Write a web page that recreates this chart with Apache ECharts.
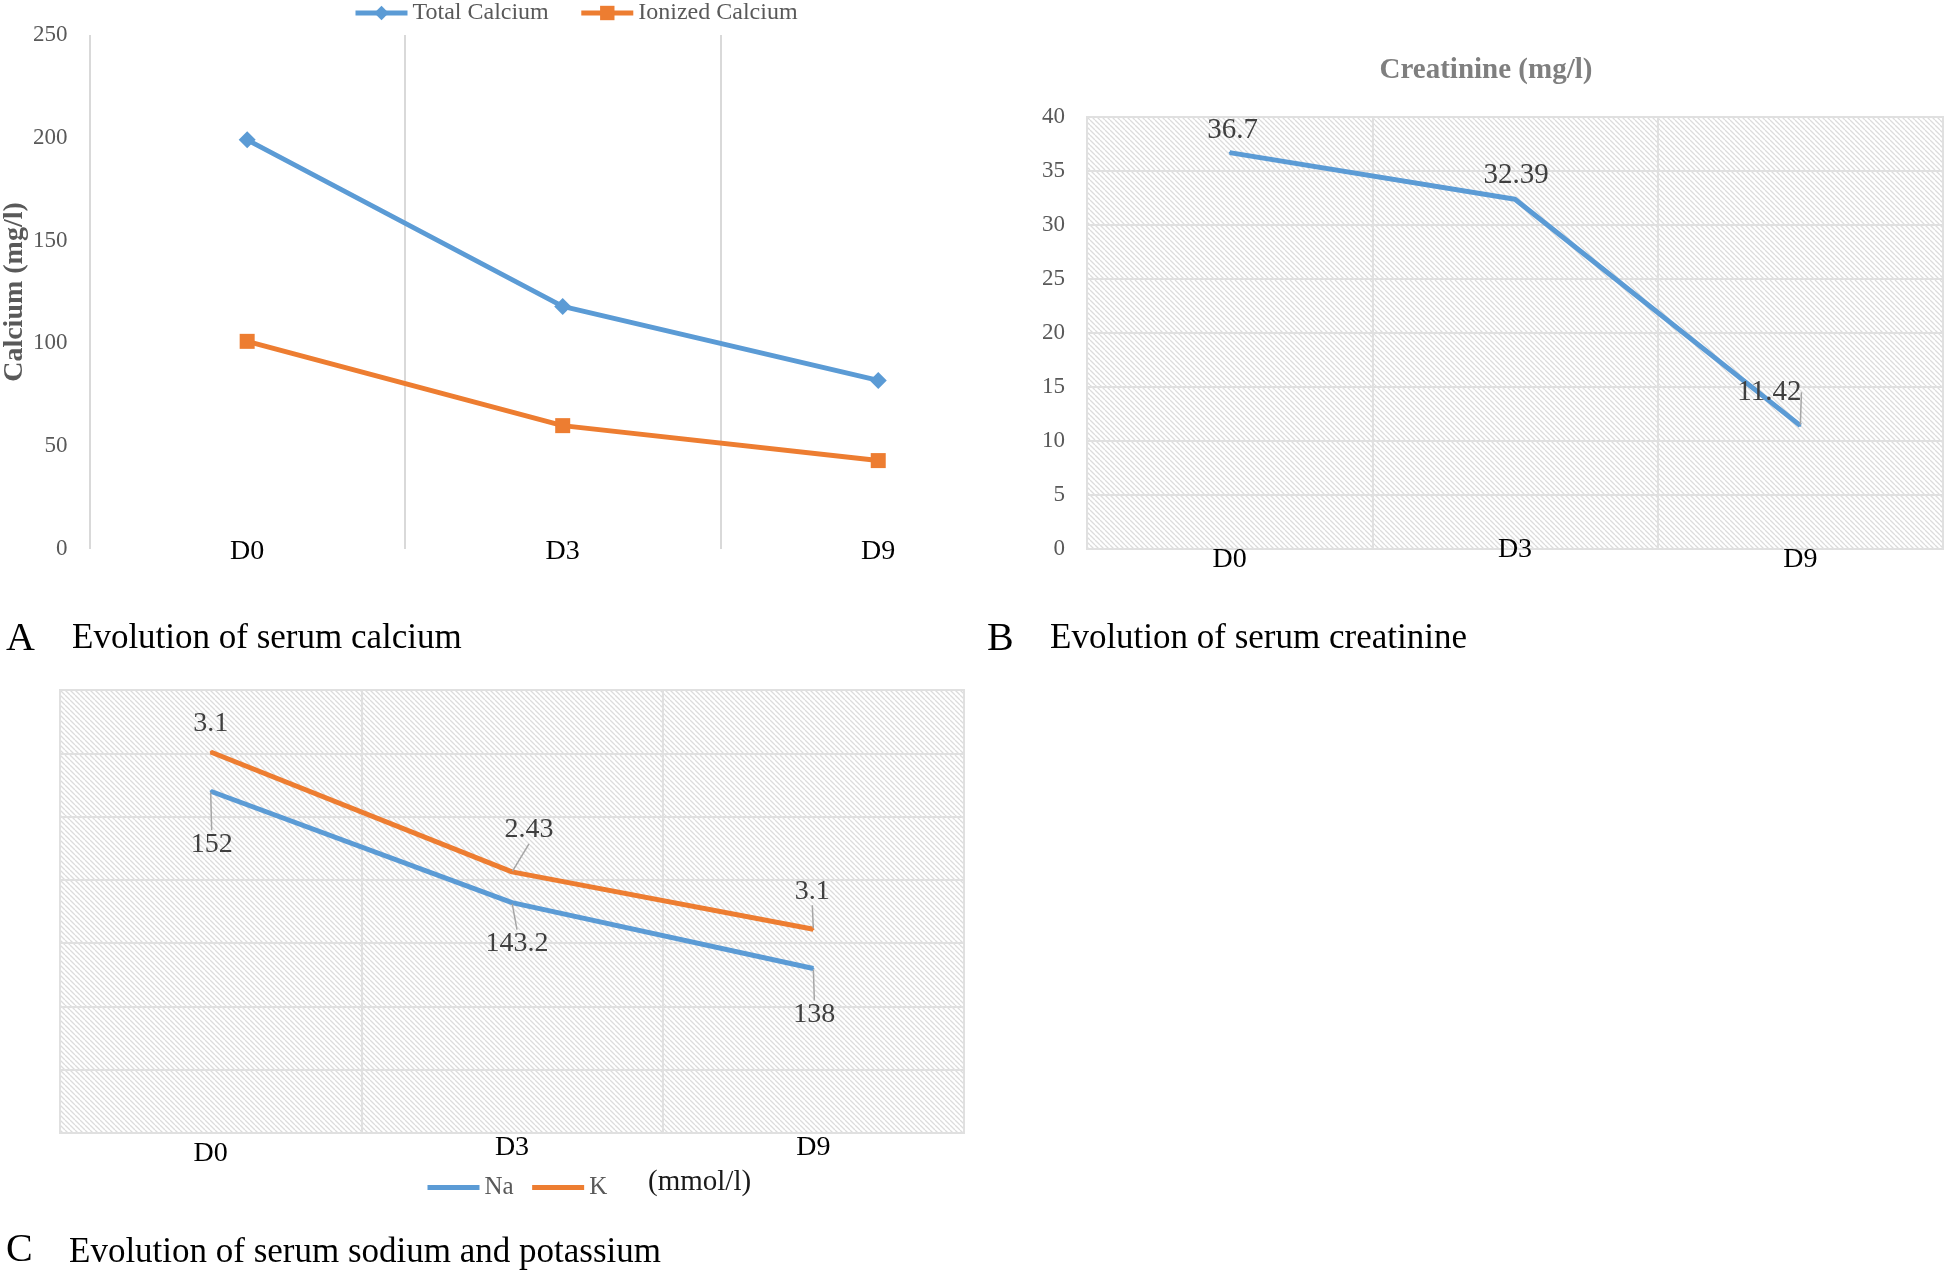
<!DOCTYPE html>
<html><head><meta charset="utf-8">
<script src="https://cdn.jsdelivr.net/npm/echarts@6/dist/echarts.min.js"></script>
<style>html,body{margin:0;padding:0;background:#fff}#c{width:1946px;height:1272px}</style>
</head><body><div id="c"></div>
<script>
// ---------- data ----------
const days = ['D0', 'D3', 'D9'];
const totalCalcium = [199, 118, 82];
const ionizedCalcium = [101, 60, 43];
const creatinine = [36.7, 32.39, 11.42];
const sodium = [152, 143.2, 138];
const potassium = [3.1, 2.43, 3.1];

// ---------- styles ----------
const FONT = "'Liberation Serif', 'Times New Roman', serif";
const BLUE = '#5B9BD5', ORANGE = '#ED7D31';
const GRIDLINE = '#e0e0e0';

function hatch() {
  const s = 5;
  const c = document.createElement('canvas');
  c.width = s; c.height = s;
  const g = c.getContext('2d');
  g.fillStyle = '#ffffff'; g.fillRect(0, 0, s, s);
  g.strokeStyle = '#dcdcdc'; g.lineWidth = 1.3;
  g.beginPath();
  for (const k of [-s, 0, s]) { g.moveTo(k, 0); g.lineTo(k + s, s); }
  g.stroke();
  return { image: c, repeat: 'repeat' };
}
const pattern = hatch();

// label shifts (dx, dy) relative to default label placement
const creatShift = [[3, -2], [1, -3], [-31, -13]];
const naShift = [[1, 33], [5, 21], [1, 26]];
const kShift = [[0, -8], [17, -22], [-1, -18]];

const labelText = { fontFamily: FONT, color: '#404040' };
const leader = { show: true, lineStyle: { color: '#a6a6a6', width: 1.5 } };
const noLeader = { show: false };

const chart = echarts.init(document.getElementById('c'), null, { renderer: 'canvas' });

const option = {
  backgroundColor: '#ffffff',
  animation: false,
  grid: [
    { left: 87, right: 910, top: 35, bottom: 723, show: false },
    { left: 1087, right: 3, top: 117, bottom: 723, show: true, backgroundColor: pattern, borderColor: GRIDLINE, borderWidth: 2 },
    { left: 60, right: 982, top: 690, bottom: 139, show: true, backgroundColor: pattern, borderColor: GRIDLINE, borderWidth: 2 }
  ],
  legend: [
    {
      data: ['Total Calcium', 'Ionized Calcium'],
      left: 348, top: -4, itemWidth: 52, itemHeight: 18, itemGap: 30,
      lineStyle: { width: 5 },
      textStyle: { fontFamily: FONT, fontSize: 24, color: '#595959' }
    },
    {
      data: ['Na', 'K'],
      left: 420, top: 1170, itemWidth: 52, itemHeight: 14, itemGap: 16,
      lineStyle: { width: 5 },
      itemStyle: { color: 'rgba(0,0,0,0)', borderWidth: 0, opacity: 0 },
      textStyle: { fontFamily: FONT, fontSize: 25, color: '#595959' }
    }
  ],
  xAxis: [
    {
      gridIndex: 0, type: 'category', data: days,
      axisLine: { show: false }, axisTick: { show: false },
      splitLine: { show: true, interval: 0, showMaxLine: false, lineStyle: { color: '#d9d9d9', width: 2 } },
      axisLabel: { margin: -11, fontFamily: FONT, fontSize: 28, color: '#000' }
    },
    {
      gridIndex: 1, type: 'category',
      data: days.map((d, i) => i === 1 ? d : { value: d, textStyle: { padding: [10, 0, 0, 0] } }),
      axisLine: { show: false }, axisTick: { show: false },
      splitLine: { show: true, interval: 0, lineStyle: { color: GRIDLINE, width: 2 } },
      axisLabel: { margin: -13, fontFamily: FONT, fontSize: 28, color: '#000' }
    },
    {
      gridIndex: 2, type: 'category',
      data: days.map((d, i) => i !== 0 ? d : { value: d, textStyle: { padding: [6, 0, 0, 0] } }),
      axisLine: { show: false }, axisTick: { show: false },
      splitLine: { show: true, interval: 0, lineStyle: { color: GRIDLINE, width: 2 } },
      axisLabel: { margin: 1, fontFamily: FONT, fontSize: 28, color: '#000' }
    }
  ],
  yAxis: [
    {
      gridIndex: 0, type: 'value', min: 0, max: 250, interval: 50,
      name: 'Calcium (mg/l)', nameLocation: 'middle', nameGap: 60,
      nameTextStyle: { fontFamily: FONT, fontSize: 28, fontWeight: 'bold', color: '#595959' },
      axisLine: { show: false }, axisTick: { show: false }, splitLine: { show: false },
      axisLabel: { margin: 22, fontFamily: FONT, fontSize: 23, color: '#595959' }
    },
    {
      gridIndex: 1, type: 'value', min: 0, max: 40, interval: 5,
      axisLine: { show: false }, axisTick: { show: false },
      splitLine: { show: true, lineStyle: { color: GRIDLINE, width: 2 } },
      axisLabel: { margin: 22, fontFamily: FONT, fontSize: 23, color: '#595959' }
    },
    {
      gridIndex: 2, type: 'value', min: 125, max: 160, interval: 5,
      axisLine: { show: false }, axisTick: { show: false },
      splitLine: { show: true, lineStyle: { color: GRIDLINE, width: 2 } },
      axisLabel: { show: false }
    }
  ],
  series: [
    {
      name: 'Total Calcium', type: 'line', xAxisIndex: 0, yAxisIndex: 0,
      data: totalCalcium, symbol: 'diamond', symbolSize: 17,
      lineStyle: { color: BLUE, width: 5 }, itemStyle: { color: BLUE }
    },
    {
      name: 'Ionized Calcium', type: 'line', xAxisIndex: 0, yAxisIndex: 0,
      data: ionizedCalcium, symbol: 'rect', symbolSize: 15,
      lineStyle: { color: ORANGE, width: 5 }, itemStyle: { color: ORANGE }
    },
    {
      name: 'Creatinine', type: 'line', xAxisIndex: 1, yAxisIndex: 1,
      data: creatinine.map((v, i) => ({ value: v, labelLine: i === 2 ? leader : noLeader })),
      symbol: 'circle', symbolSize: 2, showSymbol: true,
      lineStyle: { color: BLUE, width: 5 }, itemStyle: { color: BLUE },
      label: { show: true, position: 'top', distance: 5, fontSize: 29, ...labelText },
      labelLayout: p => ({ dx: creatShift[p.dataIndex][0], dy: creatShift[p.dataIndex][1] })
    },
    {
      name: 'Na', type: 'line', xAxisIndex: 2, yAxisIndex: 2, stack: 'electrolytes',
      data: sodium.map(v => ({ value: v, labelLine: leader })),
      symbol: 'circle', symbolSize: 2, showSymbol: true,
      lineStyle: { color: BLUE, width: 5 }, itemStyle: { color: BLUE },
      label: { show: true, position: 'bottom', distance: 5, fontSize: 28, ...labelText },
      labelLine: leader,
      labelLayout: p => ({ dx: naShift[p.dataIndex][0], dy: naShift[p.dataIndex][1] })
    },
    {
      name: 'K', type: 'line', xAxisIndex: 2, yAxisIndex: 2, stack: 'electrolytes',
      data: potassium.map((v, i) => ({ value: v, labelLine: i === 0 ? noLeader : leader })),
      symbol: 'circle', symbolSize: 2, showSymbol: true,
      lineStyle: { color: ORANGE, width: 5 }, itemStyle: { color: ORANGE },
      label: { show: true, position: 'top', distance: 5, fontSize: 28, ...labelText },
      labelLayout: p => ({ dx: kShift[p.dataIndex][0], dy: kShift[p.dataIndex][1] })
    }
  ],
  graphic: [
    { type: 'text', x: 1486, y: 71, style: { text: 'Creatinine (mg/l)', font: "bold 29px " + FONT, fill: '#7f7f7f', align: 'center', verticalAlign: 'middle' } },
    { type: 'text', x: 648, y: 1182, style: { text: '(mmol/l)', font: "29px " + FONT, fill: '#1a1a1a', verticalAlign: 'middle' } },
    { type: 'text', x: 6, y: 639, style: { text: 'A', font: "40px " + FONT, fill: '#000', verticalAlign: 'middle' } },
    { type: 'text', x: 72, y: 639, style: { text: 'Evolution of serum calcium', font: "35px " + FONT, fill: '#000', verticalAlign: 'middle' } },
    { type: 'text', x: 987, y: 639, style: { text: 'B', font: "40px " + FONT, fill: '#000', verticalAlign: 'middle' } },
    { type: 'text', x: 1050, y: 639, style: { text: 'Evolution of serum creatinine', font: "35px " + FONT, fill: '#000', verticalAlign: 'middle' } },
    { type: 'text', x: 6, y: 1250, style: { text: 'C', font: "40px " + FONT, fill: '#000', verticalAlign: 'middle' } },
    { type: 'text', x: 69, y: 1253, style: { text: 'Evolution of serum sodium and potassium', font: "35px " + FONT, fill: '#000', verticalAlign: 'middle' } }
  ]
};

chart.setOption(option);
</script>
</body></html>
